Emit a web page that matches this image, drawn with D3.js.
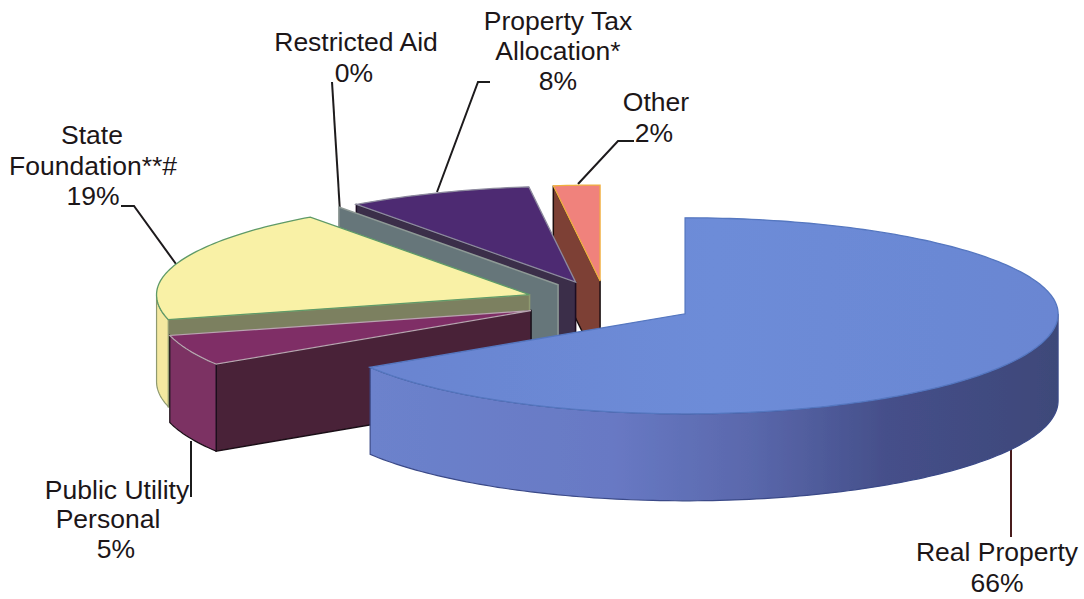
<!DOCTYPE html>
<html>
<head>
<meta charset="utf-8">
<style>
  html, body { margin: 0; padding: 0; background: #ffffff; }
  svg { display: block; }
  text { font-family: "Liberation Sans", Arial, sans-serif; fill: #1c1618; }
</style>
</head>
<body>
<div id="chart"></div>
<script src="https://cdn.jsdelivr.net/npm/d3@7"></script>
<script>
// data, clockwise from 12 o'clock
const categories = ['Real Property', 'Public Utility Personal', 'State Foundation**#', 'Restricted Aid', 'Property Tax Allocation*', 'Other'];
const shares = [66, 5, 19, 0, 8, 2];

// colours per slice, same order as categories
const topColors = ['url(#realTop)', '#7f2e66', '#f9f1a6', '#66777a', '#4d2c72', '#f0827c'];
const sideColors = ['url(#realSide)', '#7c3364', '#f4e8a0', '#66777a', '#4d2c72', '#f0827c'];
const faceColors = ['#4b5fa8', '#4a2238', '#7c8060', '#66767a', '#3a2d4a', '#7d4036'];
const topEdges = ['#5577c0', '#b9a3b0', '#5f9a68', '#8f9a96', '#8d8a9e', '#f0b040'];
const sideEdges = ['#3b4a88', '#1a1018', '#8f9a70', '#8f9a96', '#1a1020', '#1a1010'];

const width = 1084;
const height = 599;
const pieCenter = { x: 605, y: 302 };
const rx = 373;
const ry = 100;
const backSquash = 0.96; // far half of the ellipse is a bit flatter, perspective
const depth = 87;
const explode = [0.245, 0.216, 0.215, 0.214, 0.214, 0.21];

const labels = [
  { lines: ['Restricted Aid', '0%'], x: [356, 354], y: [51, 82] },
  { lines: ['Property Tax', 'Allocation*', '8%'], x: [558, 558, 558], y: [30, 60, 90] },
  { lines: ['Other', '2%'], x: [656, 654], y: [111, 142] },
  { lines: ['State', 'Foundation**#', '19%'], x: [92, 93, 93], y: [144, 175, 205] },
  { lines: ['Public Utility', 'Personal', '5%'], x: [117, 108, 116], y: [499, 528, 558] },
  { lines: ['Real Property', '66%'], x: [997, 997], y: [561, 592] }
];

const leaders = [
  [[332, 82], [341, 228]],
  [[490, 82], [478, 82], [437, 192]],
  [[634, 141], [618, 141], [578, 184]],
  [[121, 206], [134, 206], [176, 264]],
  [[191, 441], [191, 497]],
  [[1011, 445], [1011, 537]]
];

const svg = d3.select('#chart').append('svg')
  .attr('width', width)
  .attr('height', height)
  .attr('viewBox', `0 0 ${width} ${height}`);

const defs = svg.append('defs');

function addGradient(id, x1, x2, stops) {
  const grad = defs.append('linearGradient')
    .attr('id', id)
    .attr('gradientUnits', 'userSpaceOnUse')
    .attr('x1', x1).attr('x2', x2)
    .attr('y1', 0).attr('y2', 0);
  stops.forEach(s => grad.append('stop').attr('offset', s[0]).attr('stop-color', s[1]));
}

addGradient('realTop', 372, 1058, [[0, '#6a84d0'], [0.5, '#6d8cd8'], [1, '#6a86d2']]);
addGradient('realSide', 372, 1058, [[0, '#6c82cc'], [0.35, '#6879c4'], [0.55, '#5a68ac'], [0.75, '#454f8a'], [1, '#3e4879']]);

defs.append('filter').attr('id', 'scan')
  .append('feGaussianBlur').attr('stdDeviation', 0.45);

const pie = d3.pie().sort(null).value(d => d)
  .startAngle(0).endAngle(2 * Math.PI);

const slices = pie(shares).map((d, i) => {
  const mid = (d.startAngle + d.endAngle) / 2;
  return {
    ...d,
    i,
    cx: pieCenter.x + explode[i] * rx * Math.sin(mid),
    cy: pieCenter.y - explode[i] * ry * Math.cos(mid)
  };
});

function rim(s, angle, drop = 0) {
  const c = Math.cos(angle);
  return [s.cx + rx * Math.sin(angle), s.cy - ry * c * (c > 0 ? backSquash : 1) + drop];
}

function sampleArc(s, a0, a1, drop = 0) {
  const n = Math.max(2, Math.ceil((a1 - a0) / 0.02));
  return d3.range(n + 1).map(k => rim(s, a0 + (a1 - a0) * k / n, drop));
}

const line = d3.line();
const closed = pts => line(pts) + 'Z';

const stage = svg.append('g').attr('filter', 'url(#scan)');

// leader lines run under the slices
stage.append('g').selectAll('path')
  .data(leaders)
  .join('path')
  .attr('d', d => line(d))
  .attr('fill', 'none')
  .attr('stroke', (d, i) => i === 5 ? '#4a1c1c' : '#1e1a1c')
  .attr('stroke-width', 2);

// painter order: back slices first, Real Property goes last
const order = [5, 4, 3, 2, 1, 0];

order.forEach(idx => {
  const s = slices[idx];
  const g = stage.append('g').attr('class', 'slice');
  const apex = [s.cx, s.cy];

  // cut face along the start edge, only when it looks at the viewer
  if (Math.sin(s.startAngle) < -1e-6) {
    const outer = rim(s, s.startAngle);
    g.append('path')
      .attr('d', closed([apex, outer, [outer[0], outer[1] + depth], [apex[0], apex[1] + depth]]))
      .attr('fill', faceColors[idx])
      .attr('stroke', sideEdges[idx])
      .attr('stroke-width', 1.5);
  }

  // rim, only the front half of the ellipse shows
  const a0 = Math.max(s.startAngle, Math.PI / 2);
  const a1 = Math.min(s.endAngle, 3 * Math.PI / 2);
  if (a1 > a0) {
    const upper = sampleArc(s, a0, a1);
    const lower = sampleArc(s, a0, a1, depth).reverse();
    g.append('path')
      .attr('d', closed(upper.concat(lower)))
      .attr('fill', sideColors[idx])
      .attr('stroke', sideEdges[idx])
      .attr('stroke-width', 1.2);
  }

  // top surface
  if (s.endAngle > s.startAngle) {
    g.append('path')
      .attr('d', closed([apex].concat(sampleArc(s, s.startAngle, s.endAngle))))
      .attr('fill', topColors[idx])
      .attr('stroke', topEdges[idx])
      .attr('stroke-width', 1.3);
  }
});

const labelGroup = svg.append('g').attr('class', 'labels');
labels.forEach(l => {
  l.lines.forEach((t, k) => {
    labelGroup.append('text')
      .attr('transform', `translate(${l.x[k]},${l.y[k]}) scale(1.02,1)`)
      .attr('text-anchor', 'middle')
      .attr('font-size', 26)
      .text(t);
  });
});
</script>
</body>
</html>
